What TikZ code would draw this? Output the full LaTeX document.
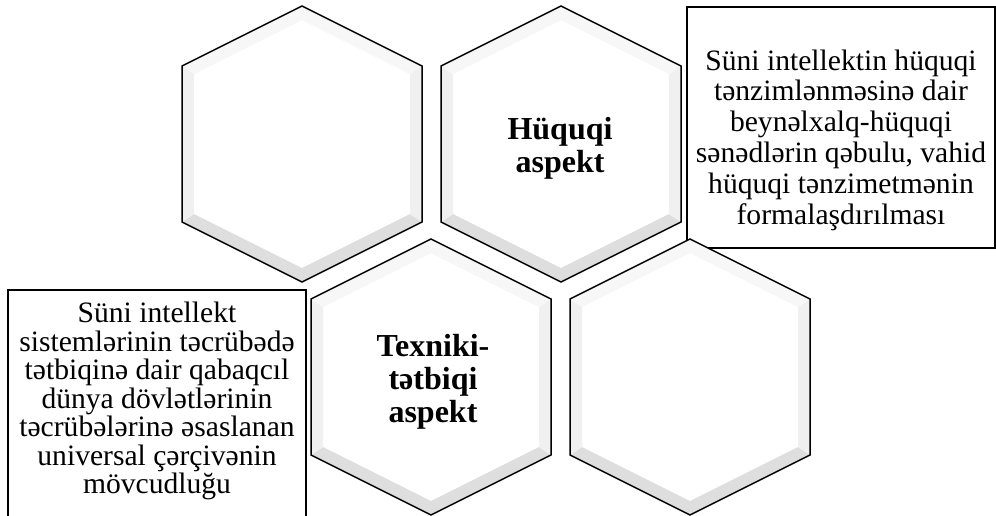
\documentclass[tikz,border=0pt]{standalone}
\usepackage{fontspec}
\setmainfont{Liberation Serif}
\begin{document}
\begin{tikzpicture}[x=1pt,y=-1pt,
  hexline/.style={draw=black,line width=1.5pt,line join=miter},
  boxline/.style={draw=black,line width=1.6pt},
  bevlo/.style={fill=black!13},
  bevside/.style={fill=black!6},
  bodytext/.style={align=center,inner sep=0pt,font=\fontsize{29.6}{28.5}\selectfont},
  bodytextb/.style={align=center,inner sep=0pt,font=\fontsize{29.6}{30.8}\selectfont},
  hextext/.style={align=center,inner sep=0pt,font=\bfseries\fontsize{32}{32.8}\selectfont}]
\useasboundingbox (0,0) rectangle (996,515);
\newcommand\hexcell[3]{%
  \begin{scope}[shift={(#2,#3)}]
    \fill[white] (0,-138)--(120,-78)--(120,78)--(0,138)--(-120,78)--(-120,-78)--cycle;
    \fill[bevlo] (-120,78)--(0,138)--(120,78)--(108,70)--(0,124)--(-108,70)--cycle;
    \fill[bevside] (-120,-78)--(-120,78)--(-108,70)--(-108,-70)--cycle;
    \fill[bevside] (120,-78)--(120,78)--(108,70)--(108,-70)--cycle;
    \fill[black!3] (-120,-78)--(0,-138)--(120,-78)--(108,-70)--(0,-124)--(-108,-70)--cycle;
    \draw[hexline] (0,-138)--(120,-78)--(120,78)--(0,138)--(-120,78)--(-120,-78)--cycle;
    \coordinate (#1) at (0,0);
  \end{scope}}
% boxes
\draw[boxline] (687,7) rectangle (995,248);
\coordinate (boxR) at (841,127);
\draw[boxline] (8,520) -- (8,290) -- (306,290) -- (306,520);
\coordinate (boxL) at (157,400);
% hexagons
\hexcell{h1}{302}{144}
\hexcell{h2}{561}{144}
\hexcell{h3}{431}{377}
\hexcell{h4}{690}{377}
% texts
\node[hextext] (t2) at (560,148) {Hüquqi\\aspekt};
\node[hextext] (t3) at (433,382) {Texniki-\\tətbiqi\\aspekt};
\node[bodytextb] (tr) at (841,140) {Süni intellektin hüquqi\\tənzimlənməsinə dair\\beynəlxalq-hüquqi\\sənədlərin qəbulu, vahid\\hüquqi tənzimetmənin\\formalaşdırılması};
\node[bodytext] (tl) at (157,401) {Süni intellekt\\sistemlərinin təcrübədə\\tətbiqinə dair qabaqcıl\\dünya dövlətlərinin\\təcrübələrinə əsaslanan\\universal çərçivənin\\mövcudluğu};
\end{tikzpicture}
\end{document}
